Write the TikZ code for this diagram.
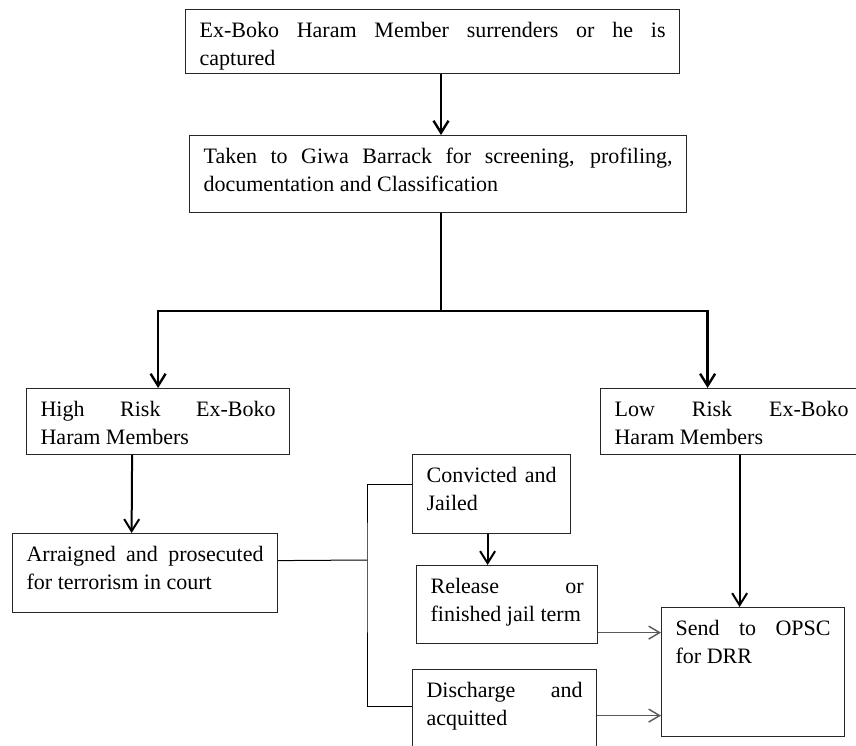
\documentclass[tikz,border=0pt]{standalone}
\usepackage{fontspec}
\setmainfont{Liberation Serif}
\usetikzlibrary{arrows.meta}
\hyphenpenalty=10000
\exhyphenpenalty=10000
\tolerance=10000
\hbadness=10000

\begin{document}
\begin{tikzpicture}[
  x=1pt, y=-1pt,
  font=\fontsize{22}{28.5}\selectfont,
  box/.style={rectangle, draw=black!85, line width=1.2pt, anchor=north west, align=justify, inner xsep=14pt, inner ysep=12.5pt, text height=15pt},
  arrow/.style={-{Straight Barb[length=12pt, width=15pt]}, line width=2.4pt},
  link/.style={line width=1pt},
  sidearrow/.style={-{Straight Barb[length=11pt, width=13pt]}, line width=1.4pt, black!65}
]

\path[use as bounding box, fill=white] (0,0) rectangle (856,746);

\node[box, text width=466pt, text depth=24pt] (surrender) at (185,9) {Ex-Boko Haram Member surrenders or he is\linebreak captured};
\node[box, text width=469pt, text depth=37pt] (giwa) at (189,135) {Taken to Giwa Barrack for screening, profiling,\linebreak documentation and Classification};
\node[box, text width=235pt, text depth=26pt] (high_risk) at (26,388) {High Risk Ex-Boko\linebreak Haram Members};
\node[box, text width=234pt, text depth=26pt] (low_risk) at (600,388) {Low Risk Ex-Boko\linebreak Haram Members};
\node[box, text width=237pt, text depth=39pt] (court) at (12,533) {Arraigned and prosecuted\linebreak for terrorism in court};
\node[box, text width=130pt, text depth=39pt] (jailed) at (412,454) {Convicted~and\linebreak Jailed};
\node[box, text width=153pt, text depth=38pt] (release) at (416,565) {Release or\linebreak finished jail term};
\node[box, text width=156pt, text depth=52pt] (discharge) at (412,669) {Discharge and\linebreak acquitted};
\node[box, text width=155pt, text depth=89pt] (opsc) at (661,607) {Send to OPSC\linebreak for DRR};

\coordinate (split) at (441,311);
\coordinate (fork) at (367,560);

\draw[arrow] (surrender.south -| split) -- (giwa.north -| split);
\draw[line width=2.4pt] (giwa.south -| split) -- (split);
\draw[arrow] (split) -| (high_risk.north);
\draw[arrow] (split) -| ([xshift=-24pt]low_risk.north);
\draw[arrow, line width=2pt] ([xshift=-26pt]high_risk.south) -- ([xshift=-13.5pt]court.north);
\draw[arrow, line width=2pt] ([xshift=8pt]low_risk.south) -- ([xshift=-13.5pt]opsc.north);
\draw[link] ([yshift=12.5pt]court.east) -- (fork);
\draw[link] ([yshift=9.5pt]jailed.west) -| (fork) |- ([yshift=9pt]discharge.west);
\draw[arrow, line width=2pt] ([xshift=-4pt]jailed.south) -- ([xshift=-19.5pt]release.north);
\draw[sidearrow] ([yshift=-28pt]release.east) -- ([yshift=39.5pt]opsc.west);
\draw[sidearrow] (discharge.east) -- ([yshift=-43.5pt]opsc.west);

\end{tikzpicture}
\end{document}
